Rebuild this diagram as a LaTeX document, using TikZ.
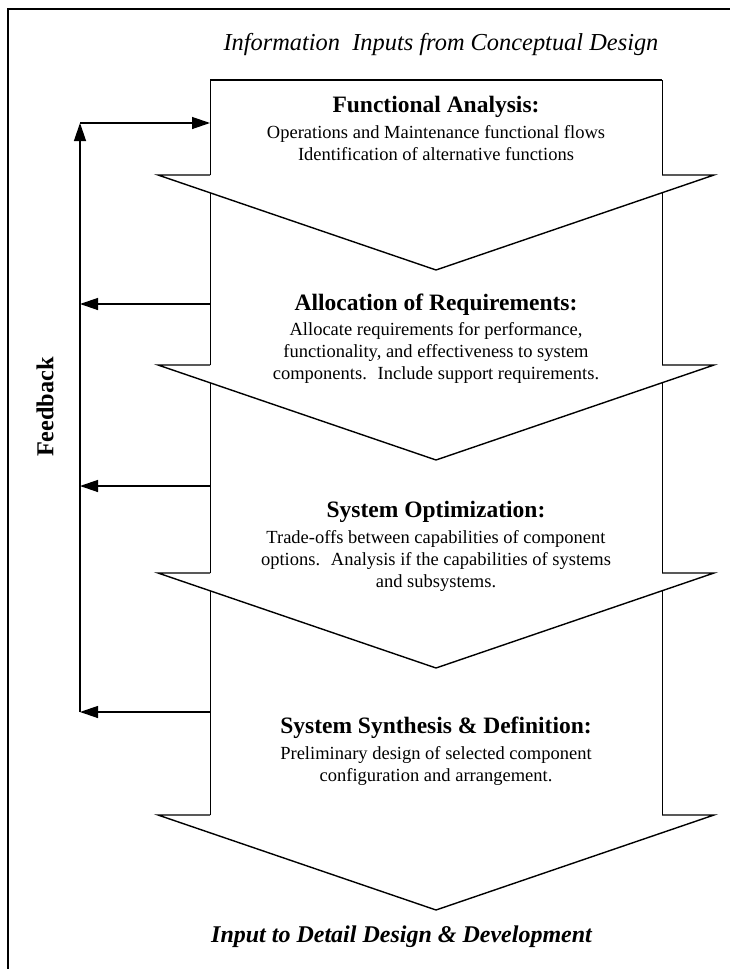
\documentclass[tikz,border=0pt]{standalone}
\usepackage{fontspec}
\setmainfont{Liberation Serif}
\usetikzlibrary{arrows.meta}
\begin{document}
\begin{tikzpicture}[x=1pt,y=-1pt,
  side/.style={line width=0.9pt},
  edge/.style={line width=1.4pt, line join=miter},
  fb/.style={line width=1.3pt,-{Triangle[length=18pt,width=12pt]}},
  fbline/.style={line width=1.3pt},
  headtxt/.style={font=\fontsize{23.5}{26}\selectfont\bfseries, inner sep=0pt},
  bodytxt/.style={font=\fontsize{18.5}{21.7}\selectfont, align=center, inner sep=0pt},
]
\useasboundingbox (0,0) rectangle (730,969);
\fill[white] (0,0) rectangle (730,969);

% outer frame (top and left edges)
\draw[line width=2pt] (730,9) -- (8,9) -- (8,969);

% one stage arrow: #1 top, #2 shoulder, #3 tip
\newcommand\stagearrow[3]{%
  \fill[white] (210,#1) -- (662,#1) -- (662,#2) -- (714,#2) -- (436,#3)
        -- (158,#2) -- (210,#2) -- cycle;
  \draw[side] (210,#1) -- (210,#2) (662,#1) -- (662,#2);
  \draw[edge] (210,#2) -- (158,#2) -- (436,#3) -- (714,#2) -- (662,#2);
}

% stages, drawn from the bottom up so each head overlaps the next body
\stagearrow{565}{815}{910}
\stagearrow{360}{573}{668}
\stagearrow{170}{365}{460}
\stagearrow{80}{175}{270}
\draw[edge] (210,80) -- (662,80);

% titles
\node[font=\fontsize{24.4}{28}\selectfont\itshape, inner sep=0pt] (intitle) at (441,45)
  {Information~ Inputs from Conceptual Design};
\node[font=\fontsize{24}{28}\selectfont\bfseries\itshape, inner sep=0pt, anchor=west] (outtitle) at (211,937)
  {Input to Detail Design \& Development};

% stage texts
\node[headtxt] (h1) at (436,107) {Functional Analysis:};
\node[bodytxt] (b1) at (436,143) {Operations and Maintenance functional flows\\
  Identification of alternative functions};

\node[headtxt] (h2) at (436,305) {Allocation of Requirements:};
\node[bodytxt] (b2) at (436,353) {Allocate requirements for performance,\\
  functionality, and effectiveness to system\\
  components.~ Include support requirements.};

\node[headtxt] (h3) at (436,512) {System Optimization:};
\node[bodytxt] (b3) at (436,561) {Trade-offs between capabilities of component\\
  options.~ Analysis if the capabilities of systems\\
  and subsystems.};

\node[headtxt] (h4) at (436,728) {System Synthesis \& Definition:};
\node[bodytxt] (b4) at (436,766) {Preliminary design of selected component\\
  configuration and arrangement.};

% feedback loop
\node[font=\fontsize{24.3}{28}\selectfont\bfseries, rotate=90, inner sep=0pt] (fbl) at (45,407) {Feedback};

\coordinate (fbtop) at (80,123);
\coordinate (fb2) at (80,304);
\coordinate (fb3) at (80,486);
\coordinate (fb4) at (80,712);
\coordinate (s1) at (210,123);
\coordinate (s2) at (210,304);
\coordinate (s3) at (210,486);
\coordinate (s4) at (210,712);

\draw[fbline] (fb4) -- (fb3) -- (fb2);
\draw[fb] (fb2) -- (fbtop);
\draw[fb] (fbtop) -- (s1);
\draw[fb] (s2) -- (fb2);
\draw[fb] (s3) -- (fb3);
\draw[fb] (s4) -- (fb4);
\end{tikzpicture}
\end{document}
